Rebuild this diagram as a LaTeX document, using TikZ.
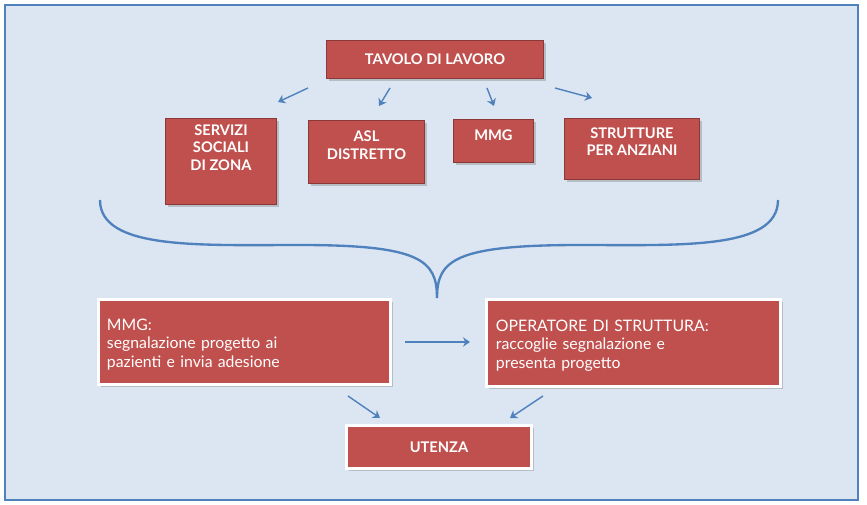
\documentclass[tikz,border=0pt]{standalone}
\usepackage{fontspec}
\setmainfont{Lato}
\usetikzlibrary{shadows,arrows.meta}
\tikzstyle{arrow} = [very thick,color=arrowblue,-{Stealth[length=6pt,width=8pt]}]
\definecolor{boxred}{HTML}{C0504D}
\definecolor{darkred}{HTML}{8C3836}
\definecolor{bgblue}{HTML}{DCE6F2}
\definecolor{arrowblue}{HTML}{4F81BD}

\begin{document}
\begin{tikzpicture}[x=0.03cm,y=-0.03cm]

\tikzstyle{top} = [fill=boxred, draw=darkred, thick, text=white, font=\bfseries\fontsize{12.5}{15}\selectfont, align=center, anchor=north west, inner sep=0pt, drop shadow={shadow xshift=2pt,shadow yshift=-2pt,opacity=0.4}]
\tikzstyle{big} = [fill=boxred, draw=white, line width=2.5pt, text=white, font=\fontsize{13.5}{16}\selectfont, align=left, anchor=north west, inner sep=0pt, drop shadow={shadow xshift=2pt,shadow yshift=-2pt,opacity=0.4}]

\useasboundingbox (0,0) rectangle (867,505);
\draw[fill=bgblue, draw=arrowblue, line width=2.5pt] (5,5) rectangle (858,500);

\node[top, minimum width=217*0.03cm, minimum height=38*0.03cm](T)at(326,40){TAVOLO DI LAVORO};
\node[top, minimum width=111*0.03cm, minimum height=86*0.03cm, text depth=0.85cm](S)at(165,118){SERVIZI\\SOCIALI\\DI ZONA};
\node[top, minimum width=116*0.03cm, minimum height=63*0.03cm, text depth=0.4cm](A)at(308,120){ASL\\DISTRETTO};
\node[top, minimum width=80*0.03cm, minimum height=43*0.03cm, text depth=0.35cm](M)at(453,119){MMG};
\node[top, minimum width=135*0.03cm, minimum height=61*0.03cm, text depth=0.45cm](P)at(564,118){STRUTTURE\\PER ANZIANI};

\draw[arrow](308,88) -- (278,102);
\draw[arrow](390,88) -- (379,106);
\draw[arrow](487,88) -- (494,106);
\draw[arrow](555,88) -- (592,98);

\draw[arrowblue, line width=2pt](100,200) .. controls (100,250) and (200,245) .. (300,245) .. controls (420,245) and (437,260) .. (437,298);
\draw[arrowblue, line width=2pt](778,200) .. controls (778,250) and (680,245) .. (580,245) .. controls (455,245) and (437,260) .. (437,298);

\node[big, minimum width=292*0.03cm, minimum height=85*0.03cm, text width=275*0.03cm, text depth=1.05cm](G)at(97,298){MMG:\\segnalazione progetto ai\\pazienti e invia adesione};
\node[big, minimum width=294*0.03cm, minimum height=87*0.03cm, text width=275*0.03cm, text depth=1.05cm](O)at(485,298){OPERATORE DI STRUTTURA:\\raccoglie segnalazione e\\presenta progetto};
\node[big, minimum width=185*0.03cm, minimum height=43*0.03cm, align=center, font=\bfseries\fontsize{12.5}{15}\selectfont](U)at(345,424){UTENZA};

\draw[arrow](405,342) -- (470,342);
\draw[arrow](348,396) -- (380,418);
\draw[arrow](543,396) -- (510,418);

\end{tikzpicture}
\end{document}
